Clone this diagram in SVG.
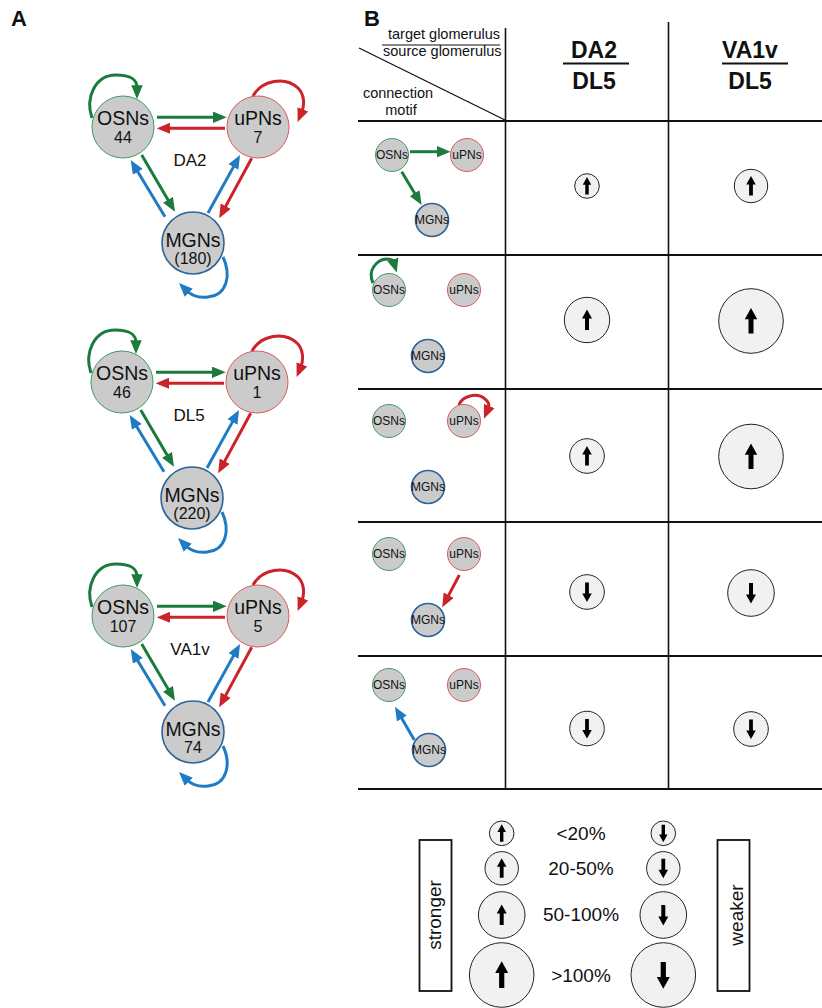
<svg xmlns="http://www.w3.org/2000/svg" xmlns:xlink="http://www.w3.org/1999/xlink" width="822" height="1008" viewBox="0 0 822 1008">
<style>
text{font-family:"Liberation Sans",Arial,sans-serif;fill:#111}
.panel{font-size:22px;font-weight:bold}
.nm{font-size:19.5px;text-anchor:middle}
.num{font-size:16px;text-anchor:middle}
.glo{font-size:17px;text-anchor:middle}
.mini{font-size:12px;text-anchor:middle}
.hd{font-size:14.5px}
.col{font-size:23px;font-weight:bold;text-anchor:middle}
.leg{font-size:19px;text-anchor:middle}
.node{fill:#cbcbcb}
.osn{stroke:#3f9a67;stroke-width:1}
.upn{stroke:#dc5a5a;stroke-width:1}
.mgn{stroke:#2c6499;stroke-width:1.6}
.ag{stroke:#1b7a3e;stroke-width:3;fill:none;marker-end:url(#mg)}
.ar{stroke:#cc2229;stroke-width:3;fill:none;marker-end:url(#mr)}
.ab{stroke:#1f7cc4;stroke-width:3;fill:none;marker-end:url(#mb)}
.grid{stroke:#111;fill:none}
.sym{fill:#f1f1f1;stroke:#222;stroke-width:1}
.box{fill:none;stroke:#111;stroke-width:1.8}
</style>
<defs>
<marker id="mg" viewBox="0 0 12 10" refX="2.4" refY="5" markerWidth="4.6" markerHeight="3.83" orient="auto"><path d="M0,0 L12,5 L0,10 z" fill="#1b7a3e"/></marker>
<marker id="mr" viewBox="0 0 12 10" refX="2.4" refY="5" markerWidth="4.6" markerHeight="3.83" orient="auto"><path d="M0,0 L12,5 L0,10 z" fill="#cc2229"/></marker>
<marker id="mb" viewBox="0 0 12 10" refX="2.4" refY="5" markerWidth="4.6" markerHeight="3.83" orient="auto"><path d="M0,0 L12,5 L0,10 z" fill="#1f7cc4"/></marker>
<path id="arr" d="M0,-10.5 L5,-1.5 L2,-1.5 L2,10 L-2,10 L-2,-1.5 L-5,-1.5 Z" fill="#000"/>
<g id="netArrows">
<path class="ag" d="M157,117.3 L215.7,117.3"/>
<path class="ar" d="M225,128.3 L167.7,128.3"/>
<path class="ag" d="M141.7,155 L169.4,202.2"/>
<path class="ab" d="M165,216.7 L136.4,169.5"/>
<path class="ab" d="M208,213 L234.7,164.6"/>
<path class="ar" d="M251.7,158.3 L224.4,208.6"/>
<path class="ag" d="M92,118 C85,98 95,75 116,75 C129,75 137,78 137,88"/>
<path class="ar" d="M253,96 C262,80 285,76 298,88 C304,94 305,104 301.8,111.9"/>
<path class="ab" d="M223,257 C231,274 228,295 208,297 C199,298 191,295 186.8,290.8"/>
</g>
</defs>

<text class="panel" x="11" y="26">A</text>
<text class="panel" x="364" y="26">B</text>

<!-- Panel A network DA2 -->
<g id="net-DA2">
<g id="conn-DA2"><use xlink:href="#netArrows"/></g>
<g id="DA2-OSNs"><circle class="node osn" cx="123" cy="127" r="31"/><text class="nm" x="123" y="125">OSNs</text><text class="num" x="123" y="143">44</text></g>
<g id="DA2-uPNs"><circle class="node upn" cx="258" cy="127" r="31"/><text class="nm" x="258" y="125">uPNs</text><text class="num" x="258" y="143">7</text></g>
<g id="DA2-MGNs"><circle class="node mgn" cx="193" cy="243" r="31"/><text class="nm" x="193" y="247">MGNs</text><text class="num" x="193" y="264">(180)</text></g>
<text class="glo" x="190" y="166">DA2</text>
</g>

<g id="net-DL5" transform="translate(-1,255)">
<g id="conn-DL5"><use xlink:href="#netArrows"/></g>
<g id="DL5-OSNs"><circle class="node osn" cx="123" cy="127" r="31"/><text class="nm" x="123" y="125">OSNs</text><text class="num" x="123" y="143">46</text></g>
<g id="DL5-uPNs"><circle class="node upn" cx="258" cy="127" r="31"/><text class="nm" x="258" y="125">uPNs</text><text class="num" x="258" y="143">1</text></g>
<g id="DL5-MGNs"><circle class="node mgn" cx="193" cy="243" r="31"/><text class="nm" x="193" y="247">MGNs</text><text class="num" x="193" y="264">(220)</text></g>
<text class="glo" x="190" y="166">DL5</text>
</g>

<g id="net-VA1v" transform="translate(0,489)">
<g id="conn-VA1v"><use xlink:href="#netArrows"/></g>
<g id="VA1v-OSNs"><circle class="node osn" cx="123" cy="127" r="31"/><text class="nm" x="123" y="125">OSNs</text><text class="num" x="123" y="143">107</text></g>
<g id="VA1v-uPNs"><circle class="node upn" cx="258" cy="127" r="31"/><text class="nm" x="258" y="125">uPNs</text><text class="num" x="258" y="143">5</text></g>
<g id="VA1v-MGNs"><circle class="node mgn" cx="193" cy="243" r="31"/><text class="nm" x="193" y="247">MGNs</text><text class="num" x="193" y="264">74</text></g>
<text class="glo" x="190" y="166">VA1v</text>
</g>

<!-- Panel B table -->
<g id="table">
<path class="grid" stroke-width="1.6" d="M505.5,28 V789 M668.5,22 V789"/>
<path class="grid" stroke-width="2" d="M358,121 H822 M358,255 H822 M358,389 H822 M358,522 H822 M358,656 H822 M358,789 H822"/>
<path class="grid" stroke-width="1.3" d="M359,48 L505,120"/>
<path class="grid" stroke-width="1" d="M382,45 H500"/>
<path class="grid" stroke-width="1.8" d="M563,63.5 H629 M722,63.5 H788"/>
<text class="hd" x="500" y="38.5" text-anchor="end">target glomerulus</text>
<text class="hd" x="501.5" y="56" text-anchor="end">source glomerulus</text>
<text class="hd" x="398" y="98" text-anchor="middle">connection</text>
<text class="hd" x="401" y="115" text-anchor="middle">motif</text>
<text class="col" x="594" y="58">DA2</text>
<text class="col" x="594" y="89">DL5</text>
<text class="col" x="750" y="58">VA1v</text>
<text class="col" x="750" y="89">DL5</text>
</g>

<!-- motif rows -->
<g id="motif1">
<g id="m1-conn"><path class="ag" d="M410,151.7 L439.5,151.7"/><path class="ag" d="M401.7,171.7 L416,195.5"/></g>
<g id="m1-OSNs"><circle class="node osn" cx="392" cy="155" r="16.5"/><text class="mini" x="392" y="159">OSNs</text></g>
<g id="m1-uPNs"><circle class="node upn" cx="467" cy="155" r="16.5"/><text class="mini" x="467" y="159">uPNs</text></g>
<g id="m1-MGNs"><circle class="node mgn" cx="432" cy="220" r="16.5"/><text class="mini" x="432" y="224">MGNs</text></g>
</g>
<g id="motif2">
<g id="m2-conn"><path class="ag" d="M373,283 C367,270 377,260 386,259 C390,259 393,260 393.6,262"/></g>
<g id="m2-OSNs"><circle class="node osn" cx="389" cy="290" r="16.5"/><text class="mini" x="389" y="294">OSNs</text></g>
<g id="m2-uPNs"><circle class="node upn" cx="464" cy="290" r="16.5"/><text class="mini" x="464" y="294">uPNs</text></g>
<g id="m2-MGNs"><circle class="node mgn" cx="428" cy="356" r="16.5"/><text class="mini" x="428" y="360">MGNs</text></g>
</g>
<g id="motif3">
<g id="m3-conn"><path class="ar" d="M459,405 C462,396 477,392 485,399 C489,402 489.5,405.5 488.2,408.6"/></g>
<g id="m3-OSNs"><circle class="node osn" cx="389" cy="421" r="16.5"/><text class="mini" x="389" y="425">OSNs</text></g>
<g id="m3-uPNs"><circle class="node upn" cx="464" cy="421" r="16.5"/><text class="mini" x="464" y="425">uPNs</text></g>
<g id="m3-MGNs"><circle class="node mgn" cx="428" cy="487" r="16.5"/><text class="mini" x="428" y="491">MGNs</text></g>
</g>
<g id="motif4">
<g id="m4-conn"><path class="ar" d="M459.3,575 L447.4,597.6"/></g>
<g id="m4-OSNs"><circle class="node osn" cx="389" cy="554" r="16.5"/><text class="mini" x="389" y="558">OSNs</text></g>
<g id="m4-uPNs"><circle class="node upn" cx="464" cy="554" r="16.5"/><text class="mini" x="464" y="558">uPNs</text></g>
<g id="m4-MGNs"><circle class="node mgn" cx="428" cy="620" r="16.5"/><text class="mini" x="428" y="624">MGNs</text></g>
</g>
<g id="motif5">
<g id="m5-conn"><path class="ab" d="M414.3,740 L400.5,716.2"/></g>
<g id="m5-OSNs"><circle class="node osn" cx="389" cy="685" r="16.5"/><text class="mini" x="389" y="689">OSNs</text></g>
<g id="m5-uPNs"><circle class="node upn" cx="464" cy="685" r="16.5"/><text class="mini" x="464" y="689">uPNs</text></g>
<g id="m5-MGNs"><circle class="node mgn" cx="429" cy="750" r="16.5"/><text class="mini" x="429" y="754">MGNs</text></g>
</g>

<!-- cell symbols -->
<g id="cells">
<circle class="sym" cx="587" cy="186" r="12.3"/><use xlink:href="#arr" transform="translate(587,186) scale(0.85)"/>
<circle class="sym" cx="751" cy="186" r="16.7"/><use xlink:href="#arr" transform="translate(751,186) scale(0.95)"/>
<circle class="sym" cx="587" cy="320" r="22.7"/><use xlink:href="#arr" transform="translate(587,320) scale(1)"/>
<circle class="sym" cx="751" cy="321" r="32.3"/><use xlink:href="#arr" transform="translate(751,321) scale(1.25)"/>
<circle class="sym" cx="587" cy="456" r="17.3"/><use xlink:href="#arr" transform="translate(587,456) scale(0.95)"/>
<circle class="sym" cx="751" cy="456.5" r="32.3"/><use xlink:href="#arr" transform="translate(751,456.5) scale(1.25)"/>
<circle class="sym" cx="587" cy="592" r="17.3"/><use xlink:href="#arr" transform="translate(587,592) rotate(180) scale(0.95)"/>
<circle class="sym" cx="751" cy="593" r="23.3"/><use xlink:href="#arr" transform="translate(751,593) rotate(180) scale(1)"/>
<circle class="sym" cx="587" cy="728.5" r="17.3"/><use xlink:href="#arr" transform="translate(587,728.5) rotate(180) scale(0.95)"/>
<circle class="sym" cx="751" cy="729" r="17.3"/><use xlink:href="#arr" transform="translate(751,729) rotate(180) scale(0.95)"/>
</g>

<!-- legend -->
<g id="legend">
<circle class="sym" cx="501.7" cy="833.3" r="12.3"/><use xlink:href="#arr" transform="translate(501.7,833.3) scale(0.85)"/>
<circle class="sym" cx="501.7" cy="868.3" r="16.7"/><use xlink:href="#arr" transform="translate(501.7,868.3) scale(0.95)"/>
<circle class="sym" cx="501.7" cy="915" r="23.3"/><use xlink:href="#arr" transform="translate(501.7,915) scale(1)"/>
<circle class="sym" cx="501.7" cy="975" r="32.3"/><use xlink:href="#arr" transform="translate(501.7,975) scale(1.3)"/>
<circle class="sym" cx="663.3" cy="833.3" r="12.3"/><use xlink:href="#arr" transform="translate(663.3,833.3) rotate(180) scale(0.85)"/>
<circle class="sym" cx="663.3" cy="868.3" r="16.7"/><use xlink:href="#arr" transform="translate(663.3,868.3) rotate(180) scale(0.95)"/>
<circle class="sym" cx="663.3" cy="915" r="23.3"/><use xlink:href="#arr" transform="translate(663.3,915) rotate(180) scale(1)"/>
<circle class="sym" cx="663.3" cy="975" r="32.3"/><use xlink:href="#arr" transform="translate(663.3,975) rotate(180) scale(1.3)"/>
<text class="leg" x="581" y="840">&lt;20%</text>
<text class="leg" x="581" y="875">20-50%</text>
<text class="leg" x="581" y="921">50-100%</text>
<text class="leg" x="581" y="982">&gt;100%</text>
<rect class="box" x="419.5" y="840" width="32" height="151"/>
<text class="leg" transform="translate(440.5,915) rotate(-90)">stronger</text>
<rect class="box" x="717.5" y="840" width="32" height="151"/>
<text class="leg" transform="translate(742.5,915) rotate(-90)">weaker</text>
</g>
</svg>
